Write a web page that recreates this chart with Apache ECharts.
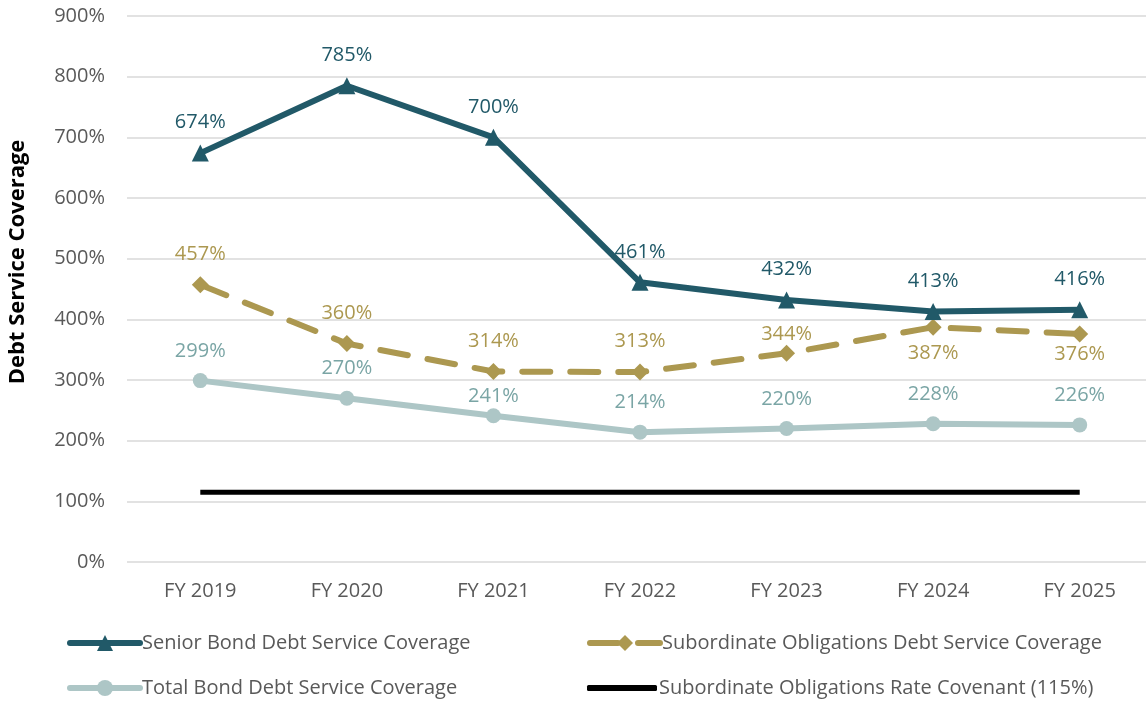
<!DOCTYPE html>
<html>
<head>
<meta charset="utf-8">
<script src="https://cdn.jsdelivr.net/npm/echarts@6/dist/echarts.min.js"></script>
<style>
  html, body { margin: 0; padding: 0; background: #fff; overflow: hidden; }
  #chart { width: 1153px; height: 702px; }
</style>
</head>
<body>
<div id="chart"></div>
<script>
var categories = ['FY 2019', 'FY 2020', 'FY 2021', 'FY 2022', 'FY 2023', 'FY 2024', 'FY 2025'];
var senior = [674, 785, 700, 461, 432, 413, 416];
var subordinate = [457, 360, 314, 313, 344, 387, 376];
var total = [299, 270, 241, 214, 220, 228, 226];
var covenant = [115, 115, 115, 115, 115, 115, 115];
// label below the point for these subordinate indexes
var subBelow = [5, 6];

var FONT = '"Open Sans", sans-serif';
var GREY = '#595959';
var FS = 20;

function pct(p){ return p.value + '%'; }

function initChart(){
  var myChart = echarts.init(document.getElementById('chart'));

  function legendAt(name, left, top, noSymbol){
    return {
      data: noSymbol ? [{ name: name, icon: 'roundRect' }] : [name],
      left: left,
      top: top,
      itemWidth: 70,
      itemHeight: noSymbol ? 6 : 20,
      lineStyle: { width: 6, cap: 'round' },
      textStyle: { color: GREY, fontSize: FS, fontFamily: FONT, padding: [0, 0, 0, -3] },
      selectedMode: false
    };
  }

  var option = {
    animation: false,
    textStyle: { fontFamily: FONT },
    grid: { left: 127, right: 0, top: 16, bottom: 140 },
    legend: [
      legendAt('Senior Bond Debt Service Coverage', 62, 628),
      legendAt('Subordinate Obligations Debt Service Coverage', 582, 628),
      legendAt('Total Bond Debt Service Coverage', 62, 673),
      legendAt('Subordinate Obligations Rate Covenant (115%)', 582, 673, true)
    ],
    graphic: [{
      type: 'text',
      x: 18,
      y: 262,
      rotation: Math.PI / 2,
      style: {
        text: 'Debt Service Coverage',
        font: 'bold 22px ' + FONT,
        fill: '#000',
        align: 'center',
        verticalAlign: 'middle'
      }
    }],
    xAxis: {
      type: 'category',
      data: categories,
      boundaryGap: true,
      axisLine: { show: false },
      axisTick: { show: false },
      axisLabel: { color: GREY, fontSize: FS, margin: 19, fontFamily: FONT }
    },
    yAxis: {
      type: 'value',
      min: 0,
      max: 900,
      interval: 100,
      axisLine: { show: false },
      axisTick: { show: false },
      axisLabel: { color: GREY, fontSize: FS, margin: 22, formatter: '{value}%', fontFamily: FONT },
      splitLine: { lineStyle: { color: '#d9d9d9', width: 1.5 } }
    },
    series: [
      {
        name: 'Senior Bond Debt Service Coverage',
        type: 'line',
        data: senior,
        symbol: 'triangle',
        symbolSize: 17,
        z: 4,
        itemStyle: { color: '#215968' },
        lineStyle: { color: '#215968', width: 6 },
        label: { show: true, position: 'top', distance: 12, color: '#215968', fontSize: FS, formatter: pct }
      },
      {
        name: 'Subordinate Obligations Debt Service Coverage',
        type: 'line',
        data: subordinate.map(function(v, i){
          var below = subBelow.indexOf(i) >= 0;
          var d = below ? (i === 5 ? 8 : 2) : (i === 4 ? 1 : 12);
          return { value: v, label: { position: below ? 'bottom' : 'top', distance: d } };
        }),
        symbol: 'diamond',
        symbolSize: 17,
        z: 3,
        itemStyle: { color: '#ac9850' },
        lineStyle: { color: '#ac9850', width: 6, type: [28, 20], cap: 'round' },
        label: { show: true, color: '#ac9850', fontSize: FS, formatter: pct }
      },
      {
        name: 'Total Bond Debt Service Coverage',
        type: 'line',
        data: total.map(function(v, i){
          return { value: v, label: { distance: i === 2 ? 2 : 12 } };
        }),
        symbol: 'circle',
        symbolSize: 15,
        z: 2,
        itemStyle: { color: '#adc6c6' },
        lineStyle: { color: '#adc6c6', width: 6 },
        label: { show: true, position: 'top', color: '#7aa5a5', fontSize: FS, formatter: pct }
      },
      {
        name: 'Subordinate Obligations Rate Covenant (115%)',
        type: 'line',
        data: covenant,
        symbol: 'none',
        z: 1,
        itemStyle: { color: '#000' },
        lineStyle: { color: '#000', width: 5 }
      }
    ]
  };
  myChart.setOption(option);
}

initChart();
</script>
</body>
</html>
